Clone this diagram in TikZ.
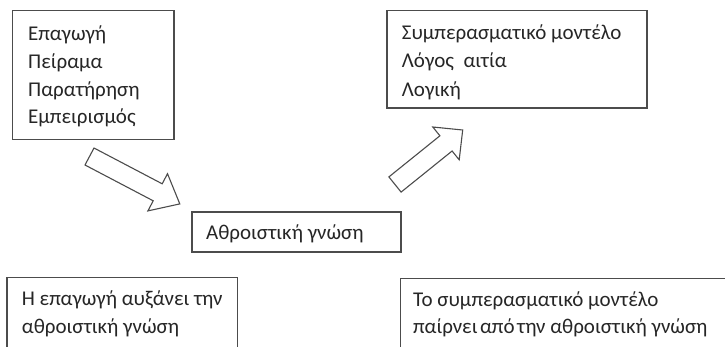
\documentclass[tikz,border=0pt]{standalone}
\usepackage{fontspec}
\setmainfont{Carlito}
\begin{document}
\begin{tikzpicture}[x=1pt,y=-1pt,
  box/.style={draw=black!70,line width=1.1pt},
  blockarrow/.style={draw=black!70,line width=1.1pt,line join=miter},
  txt/.style={anchor=base west,inner sep=0pt,text=black!85,font=\fontsize{21}{25}\selectfont}]
\useasboundingbox (0,0) rectangle (725,346);
\clip (0,0) rectangle (725,346);
% boxes
\draw[box] (12.5,10.5) rectangle (174,139.5);
\draw[box] (387,10.5) rectangle (647,108);
\draw[box] (192,212) rectangle (401,252);
\draw[box] (7,277.3) rectangle (237.3,360);
\draw[box] (400.7,278.3) rectangle (740,360);
% texts box 1
\node[txt] (a1) at (28,40.8) {Επαγωγή};
\node[txt] (a2) at (28,68.5) {Πείραμα};
\node[txt] (a3) at (28,96.2) {Παρατήρηση};
\node[txt] (a4) at (28,123.9) {Εμπειρισμός};
% texts box 2
\node[txt] (b1) at (401.7,39) {Συμπερασματικό μοντέλο};
\node[txt] (b2) at (401.7,67.5) {Λόγος\ \ αιτία};
\node[txt] (b3) at (401.7,96) {Λογική};
% center
\node[txt] (c1) at (206,239) {Αθροιστική γνώση};
% bottom left
\node[txt] (d1) at (21.7,305) {Η επαγωγή αυξάνει την};
\node[txt] (d2) at (21.7,333) {αθροιστική γνώση};
% bottom right
\node[txt] (e1) at (413,306) {Το συμπερασματικό μοντέλο};
\node[txt] (e2) at (413,333) {παίρνει\hspace{0.12em}από\hspace{0.12em}την αθροιστική γνώση};
% block arrows
\draw[blockarrow] (94,148) -- (162.2,183.8) -- (167.5,173.7) -- (179.8,203.9)
  -- (147.9,210.9) -- (153.2,200.8) -- (85,165) -- cycle;
\draw[blockarrow] (388.9,176.9) -- (439.9,135.8) -- (432.8,127) -- (462.7,130)
  -- (459.2,159.8) -- (452.1,151) -- (401.1,192.1) -- cycle;
\end{tikzpicture}
\end{document}
